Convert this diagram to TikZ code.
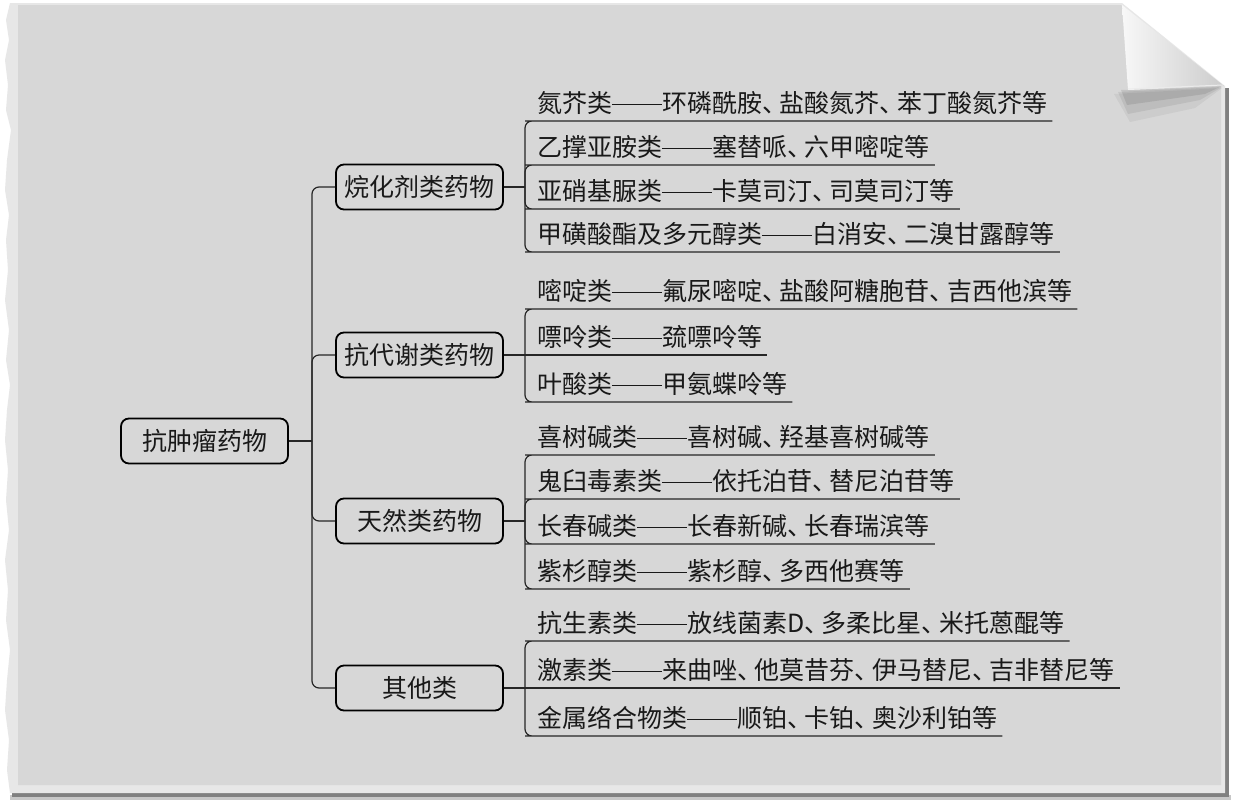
\documentclass[tikz,border=0pt]{standalone}
\usepackage{fontspec}
\setmainfont{Noto Sans CJK SC}
\definecolor{pagegray}{HTML}{D7D7D7}
\definecolor{edgegray}{HTML}{E7E7E7}
\newcommand{\dd}{\rule[0.3em]{2em}{1pt}}
\newcommand{\dn}{\makebox[0.7em][l]{、}}
\begin{document}
\begin{tikzpicture}[x=1pt,y=-1pt,
  every node/.style={font=\fontsize{25}{30}\selectfont, text=black!90},
  catbox/.style={draw=black, line width=1.8pt, rounded corners=8pt, minimum width=167pt, minimum height=45pt, inner sep=0pt},
  leaf/.style={anchor=south west, inner xsep=5pt, inner ysep=0pt, text depth=8pt},
  conn/.style={draw=black!85, line width=1.2pt, rounded corners=7pt}]
\useasboundingbox (0,0) rectangle (1233,801);
% ---- paper background ----
\fill[white] (0,0) rectangle (1233,801);
\fill[black!22] (10,795) rectangle (1231,800);
\fill[black!50] (12,792) rectangle (1229,797);
\fill[black!50] (1224,88) rectangle (1229,797);
\fill[edgegray] (10,3) -- (6,20) -- (9,40) -- (5,60) -- (8,85) -- (6,110) -- (11,130) -- (7,160) -- (5,190) -- (9,215) -- (6,240) -- (8,270) -- (5,300) -- (9,330) -- (6,360) -- (10,385) -- (7,410) -- (5,440) -- (8,470) -- (6,500) -- (9,530) -- (5,560) -- (8,590) -- (6,620) -- (10,650) -- (7,680) -- (5,710) -- (9,740) -- (7,770) -- (10,793) -- (1225,793) -- (1225,86) -- (1122,3) -- cycle;
\fill[pagegray] (18,5) -- (1121,5) -- (1221,84) -- (1221,785) -- (18,785) -- cycle;
% fold shadow
\fill[black,opacity=.05] (1114,94) -- (1222,88) -- (1195,108) -- (1130,122) -- cycle;
\fill[black,opacity=.07] (1118,92) -- (1222,87) -- (1200,100) -- (1128,114) -- cycle;
\fill[black,opacity=.09] (1121,90) -- (1222,86) -- (1205,94) -- (1127,105) -- cycle;
% fold
\shade[left color=black!3, right color=black!20] (1122,5) -- (1128,90) -- (1224,86) -- cycle;
\draw[white!92!black, line width=1pt] (1128,89) -- (1223,85);
% ---- mind map ----
\node[catbox] (root) at (204.5,441) {抗肿瘤药物};
\node[catbox] (g1) at (419.5,187) {烷化剂类药物};
\node[catbox] (g2) at (419.5,355) {抗代谢类药物};
\node[catbox] (g3) at (419.5,521) {天然类药物};
\node[catbox] (g4) at (419.5,688) {其他类};
\coordinate (t) at (312,441);
\draw[conn] (root.east) -- (t);
\foreach \g in {g1,g2,g3,g4} \draw[conn] (t) |- (\g.west);
% group 1
\coordinate (j1) at (525,187);
\node[leaf] (a1) at (532,121) {氮芥类\dd 环磷酰胺\dn 盐酸氮芥\dn 苯丁酸氮芥等};
\node[leaf] (a2) at (532,165) {乙撑亚胺类\dd 塞替哌\dn 六甲嘧啶等};
\node[leaf] (a3) at (532,209) {亚硝基脲类\dd 卡莫司汀\dn 司莫司汀等};
\node[leaf] (a4) at (532,252) {甲磺酸酯及多元醇类\dd 白消安\dn 二溴甘露醇等};
\draw[conn] (g1.east) -- (j1);
\foreach \c in {a1,a2,a3,a4} \draw[conn] (j1) |- (\c.south west) -- (\c.south east);
% group 2
\coordinate (j2) at (525,355);
\node[leaf] (b1) at (532,309) {嘧啶类\dd 氟尿嘧啶\dn 盐酸阿糖胞苷\dn 吉西他滨等};
\node[leaf] (b2) at (532,355) {嘌呤类\dd 巯嘌呤等};
\node[leaf] (b3) at (532,402) {叶酸类\dd 甲氨蝶呤等};
\draw[conn] (g2.east) -- (j2);
\foreach \c in {b1,b3} \draw[conn] (j2) |- (\c.south west) -- (\c.south east);
\draw[conn] (j2) -- (b2.south west) -- (b2.south east);
% group 3
\coordinate (j3) at (525,521);
\node[leaf] (c1) at (532,455) {喜树碱类\dd 喜树碱\dn 羟基喜树碱等};
\node[leaf] (c2) at (532,499) {鬼臼毒素类\dd 依托泊苷\dn 替尼泊苷等};
\node[leaf] (c3) at (532,544) {长春碱类\dd 长春新碱\dn 长春瑞滨等};
\node[leaf] (c4) at (532,589) {紫杉醇类\dd 紫杉醇\dn 多西他赛等};
\draw[conn] (g3.east) -- (j3);
\foreach \c in {c1,c2,c3,c4} \draw[conn] (j3) |- (\c.south west) -- (\c.south east);
% group 4
\coordinate (j4) at (525,688);
\node[leaf] (d1) at (532,641) {抗生素类\dd 放线菌素D\dn 多柔比星\dn 米托蒽醌等};
\node[leaf] (d2) at (532,688) {激素类\dd 来曲唑\dn 他莫昔芬\dn 伊马替尼\dn 吉非替尼等};
\node[leaf] (d3) at (532,736) {金属络合物类\dd 顺铂\dn 卡铂\dn 奥沙利铂等};
\draw[conn] (g4.east) -- (j4);
\foreach \c in {d1,d3} \draw[conn] (j4) |- (\c.south west) -- (\c.south east);
\draw[conn] (j4) -- (d2.south west) -- (d2.south east);
\end{tikzpicture}
\end{document}
